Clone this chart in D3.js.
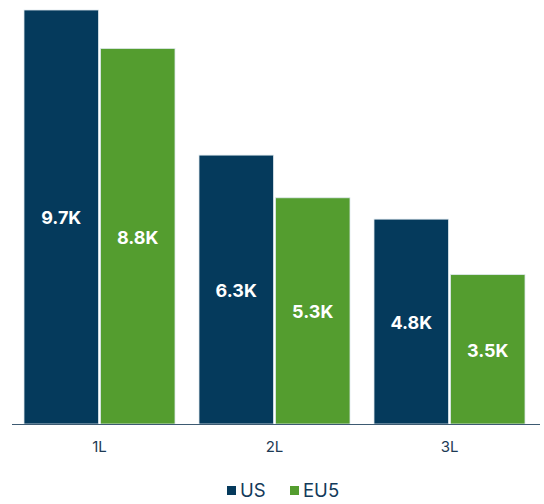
<!DOCTYPE html>
<html>
<head>
<meta charset="utf-8">
<script src="https://cdn.jsdelivr.net/npm/d3@7"></script>
<style>
  html, body { margin: 0; padding: 0; background: #fff; }
  svg { display: block; font-family: Inter, "Open Sans", sans-serif; }
</style>
</head>
<body>
<svg id="chart" width="544" height="504"></svg>
<script>
// Lines of therapy and patient counts (thousands) per region
const categories = ["1L", "2L", "3L"];
const seriesNames = ["US", "EU5"];
const usValues = [9.7, 6.3, 4.8];
const eu5Values = [8.8, 5.3, 3.5];
const seriesColors = ["#053a5c", "#549d2f"];

const rows = categories.map((c, i) => ({ cat: c, US: usValues[i], EU5: eu5Values[i] }));

const svg = d3.select("#chart");
const axisY = 424;

const x0 = d3.scaleBand()
  .domain(categories)
  .range([12, 537])
  .paddingInner(24 / 175)
  .paddingOuter(12 / 175);

const x1 = d3.scaleBand()
  .domain(seriesNames)
  .range([0, x0.bandwidth()])
  .paddingInner(0.026);

const y = d3.scaleLinear().domain([0, 9.7]).range([axisY, 10]);

const color = d3.scaleOrdinal().domain(seriesNames).range(seriesColors);

const groups = svg.append("g").selectAll("g")
  .data(rows)
  .join("g")
  .attr("transform", d => `translate(${x0(d.cat)},0)`);

const bars = groups.selectAll("g")
  .data(d => seriesNames.map(s => ({ key: s, value: d[s] })))
  .join("g");

bars.append("rect")
  .attr("x", d => x1(d.key))
  .attr("y", d => y(d.value))
  .attr("width", x1.bandwidth())
  .attr("height", d => axisY - y(d.value))
  .attr("fill", d => color(d.key))
  .attr("stroke", "#dfe9ee")
  .attr("stroke-width", 0.8);

bars.append("text")
  .attr("x", d => x1(d.key) + x1.bandwidth() / 2)
  .attr("y", d => (y(d.value) + axisY) / 2 + 1)
  .attr("dy", "0.36em")
  .attr("text-anchor", "middle")
  .attr("fill", "#fff")
  .attr("font-weight", 700)
  .attr("font-size", "18px")
  .text(d => d.value.toFixed(1) + "K");

// Category axis
const xAxis = svg.append("g")
  .attr("transform", `translate(0,${axisY})`)
  .call(d3.axisBottom(x0).tickSize(0).tickPadding(17));
xAxis.select(".domain")
  .attr("d", "M12,0.5H540")
  .attr("stroke", "#3d5a72")
  .attr("stroke-width", 1.2);
xAxis.selectAll("text")
  .attr("font-family", "Inter, sans-serif")
  .attr("font-size", "15px")
  .attr("fill", "#1d3a54");

// Legend
const legend = svg.append("g").attr("transform", "translate(0,490.5)");
const legendItems = [
  { key: "US", x: 227 },
  { key: "EU5", x: 290 }
];
const li = legend.selectAll("g").data(legendItems).join("g")
  .attr("transform", d => `translate(${d.x},0)`);
li.append("rect")
  .attr("x", 0).attr("y", -4.5)
  .attr("width", 9).attr("height", 9)
  .attr("fill", d => color(d.key));
li.append("text")
  .attr("x", 13)
  .attr("y", 0)
  .attr("dy", "0.36em")
  .attr("font-size", "18.5px")
  .attr("fill", "#123a5a")
  .text(d => d.key);
</script>
</body>
</html>
